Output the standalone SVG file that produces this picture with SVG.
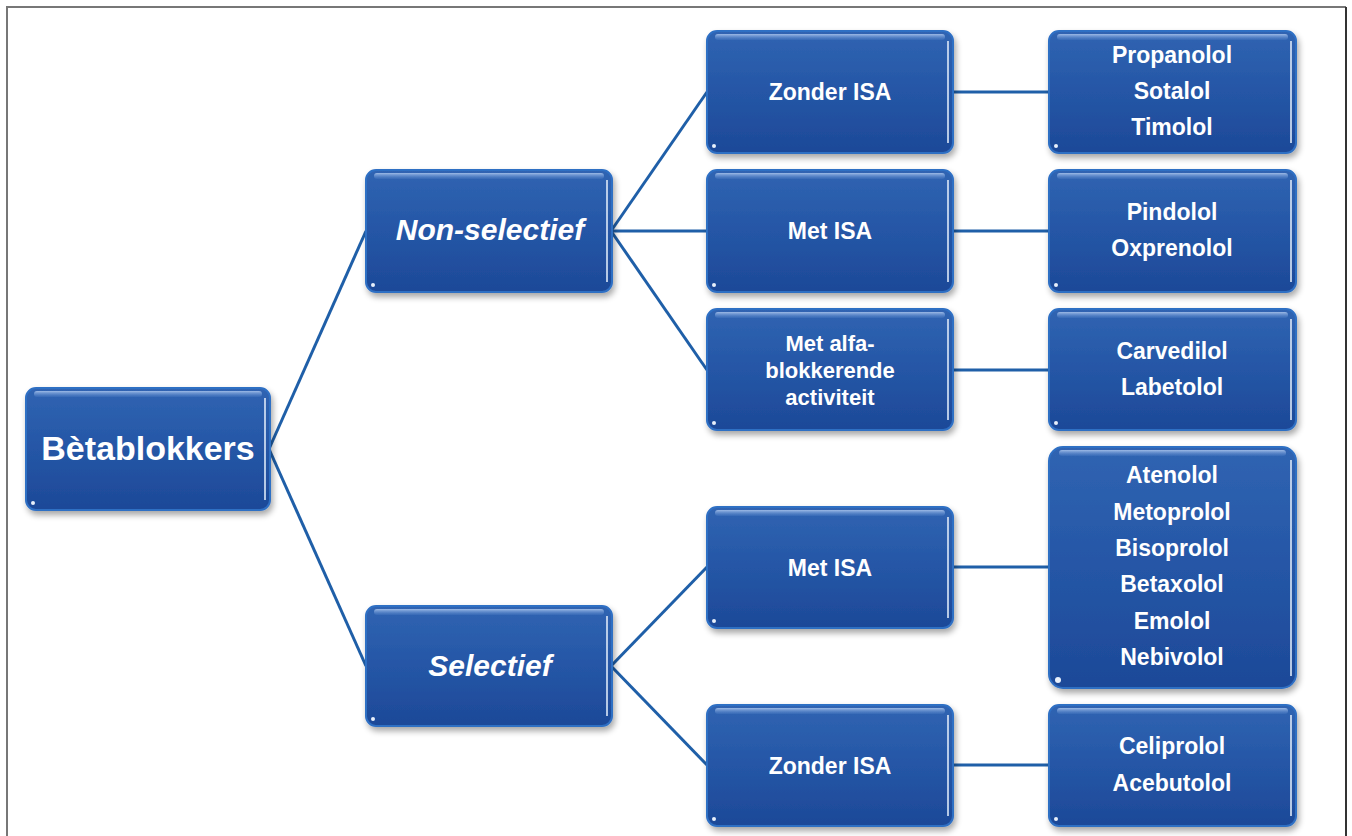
<svg xmlns="http://www.w3.org/2000/svg" width="1352" height="836" viewBox="0 0 1352 836">
<defs>
<linearGradient id="bg" x1="0" y1="0" x2="0" y2="1">
<stop offset="0" stop-color="#3064b2"/>
<stop offset="0.5" stop-color="#2556a6"/>
<stop offset="1" stop-color="#1d4998"/>
</linearGradient>
<linearGradient id="hl" x1="0" y1="0" x2="0" y2="1">
<stop offset="0" stop-color="#a9c4ec" stop-opacity="0.9"/>
<stop offset="1" stop-color="#5f8bd0" stop-opacity="0.2"/>
</linearGradient>
<filter id="sh" x="-10%" y="-10%" width="125%" height="130%">
<feGaussianBlur in="SourceAlpha" stdDeviation="3"/>
<feOffset dx="2" dy="4" result="b"/>
<feComponentTransfer><feFuncA type="linear" slope="0.35"/></feComponentTransfer>
<feMerge><feMergeNode/><feMergeNode in="SourceGraphic"/></feMerge>
</filter>
</defs>
<style>
.box{fill:url(#bg);stroke:#2f6fc4;stroke-width:2;filter:url(#sh)}
.hl{fill:url(#hl)}
.edge{stroke:#dce8f8;stroke-width:2;opacity:0.8}
.dot{fill:#e8f0fb}
.t{font-family:"Liberation Sans",Arial,sans-serif;fill:#ffffff;text-anchor:middle;font-weight:bold}
.t23{font-size:23px}
.t22{font-size:22px}
.bi{font-size:30px;font-style:italic}
.big{font-size:34px}
.con{stroke:#1f5fa8;stroke-width:3;fill:none}
.frame{fill:none;stroke-width:2}
</style>
<rect x="0" y="0" width="1352" height="836" fill="#ffffff"/>
<path class="frame" d="M7,836 V7 H1346" stroke="#777777"/>
<path class="frame" d="M1346,7 V836" stroke="#333333"/>

<g id="connectors">
<line class="con" x1="269" y1="449" x2="366" y2="231"/>
<line class="con" x1="269" y1="449" x2="366" y2="666"/>
<line class="con" x1="611" y1="231" x2="707" y2="92"/>
<line class="con" x1="611" y1="231" x2="707" y2="231"/>
<line class="con" x1="611" y1="231" x2="707" y2="370"/>
<line class="con" x1="611" y1="666" x2="707" y2="567"/>
<line class="con" x1="611" y1="666" x2="707" y2="765"/>
<line class="con" x1="952" y1="92" x2="1049" y2="92"/>
<line class="con" x1="952" y1="231" x2="1049" y2="231"/>
<line class="con" x1="952" y1="370" x2="1049" y2="370"/>
<line class="con" x1="952" y1="567" x2="1049" y2="567"/>
<line class="con" x1="952" y1="765" x2="1049" y2="765"/>
</g>

<g id="betablokkers">
<rect class="box" x="26" y="388" width="244" height="122" rx="10"/>
<rect class="hl" x="34" y="391" width="228" height="6" rx="3"/>
<line class="edge" x1="265" y1="398" x2="265" y2="500"/>
<circle class="dot" cx="33" cy="503" r="2"/>
<text class="t big" x="148" y="460">Bètablokkers</text>
</g>

<g id="non-selectief">
<rect class="box" x="366" y="170" width="246" height="122" rx="10"/>
<rect class="hl" x="374" y="173" width="230" height="6" rx="3"/>
<line class="edge" x1="607" y1="180" x2="607" y2="282"/>
<circle class="dot" cx="373" cy="285" r="2"/>
<text class="t bi" x="490" y="240">Non-selectief</text>
</g>

<g id="selectief">
<rect class="box" x="366" y="606" width="246" height="120" rx="10"/>
<rect class="hl" x="374" y="609" width="230" height="6" rx="3"/>
<line class="edge" x1="607" y1="616" x2="607" y2="716"/>
<circle class="dot" cx="373" cy="719" r="2"/>
<text class="t bi" x="490" y="676">Selectief</text>
</g>

<g id="ns-zonder-isa">
<rect class="box" x="707" y="31" width="246" height="122" rx="10"/>
<rect class="hl" x="715" y="34" width="230" height="6" rx="3"/>
<line class="edge" x1="948" y1="41" x2="948" y2="143"/>
<circle class="dot" cx="714" cy="146" r="2"/>
<text class="t t23" x="830" y="100">Zonder ISA</text>
</g>

<g id="ns-met-isa">
<rect class="box" x="707" y="170" width="246" height="122" rx="10"/>
<rect class="hl" x="715" y="173" width="230" height="6" rx="3"/>
<line class="edge" x1="948" y1="180" x2="948" y2="282"/>
<circle class="dot" cx="714" cy="285" r="2"/>
<text class="t t23" x="830" y="239">Met ISA</text>
</g>

<g id="ns-met-alfa">
<rect class="box" x="707" y="309" width="246" height="121" rx="10"/>
<rect class="hl" x="715" y="312" width="230" height="6" rx="3"/>
<line class="edge" x1="948" y1="319" x2="948" y2="420"/>
<circle class="dot" cx="714" cy="423" r="2"/>
<text class="t t22" x="830" y="351">Met alfa-</text>
<text class="t t22" x="830" y="378">blokkerende</text>
<text class="t t22" x="830" y="405">activiteit</text>
</g>

<g id="sel-met-isa">
<rect class="box" x="707" y="507" width="246" height="121" rx="10"/>
<rect class="hl" x="715" y="510" width="230" height="6" rx="3"/>
<line class="edge" x1="948" y1="517" x2="948" y2="618"/>
<circle class="dot" cx="714" cy="621" r="2"/>
<text class="t t23" x="830" y="576">Met ISA</text>
</g>

<g id="sel-zonder-isa">
<rect class="box" x="707" y="705" width="246" height="121" rx="10"/>
<rect class="hl" x="715" y="708" width="230" height="6" rx="3"/>
<line class="edge" x1="948" y1="715" x2="948" y2="816"/>
<circle class="dot" cx="714" cy="819" r="2"/>
<text class="t t23" x="830" y="774">Zonder ISA</text>
</g>

<g id="r-propanolol">
<rect class="box" x="1049" y="31" width="247" height="122" rx="10"/>
<rect class="hl" x="1057" y="34" width="231" height="6" rx="3"/>
<line class="edge" x1="1291" y1="41" x2="1291" y2="143"/>
<circle class="dot" cx="1056" cy="146" r="2"/>
<text class="t t23" x="1172" y="63">Propanolol</text>
<text class="t t23" x="1172" y="99">Sotalol</text>
<text class="t t23" x="1172" y="135">Timolol</text>
</g>

<g id="r-pindolol">
<rect class="box" x="1049" y="170" width="247" height="122" rx="10"/>
<rect class="hl" x="1057" y="173" width="231" height="6" rx="3"/>
<line class="edge" x1="1291" y1="180" x2="1291" y2="282"/>
<circle class="dot" cx="1056" cy="285" r="2"/>
<text class="t t23" x="1172" y="220">Pindolol</text>
<text class="t t23" x="1172" y="256">Oxprenolol</text>
</g>

<g id="r-carvedilol">
<rect class="box" x="1049" y="309" width="247" height="121" rx="10"/>
<rect class="hl" x="1057" y="312" width="231" height="6" rx="3"/>
<line class="edge" x1="1291" y1="319" x2="1291" y2="420"/>
<circle class="dot" cx="1056" cy="423" r="2"/>
<text class="t t23" x="1172" y="359">Carvedilol</text>
<text class="t t23" x="1172" y="395">Labetolol</text>
</g>

<g id="r-atenolol">
<rect class="box" x="1049" y="447" width="247" height="241" rx="14"/>
<rect class="hl" x="1059" y="450" width="227" height="6" rx="3"/>
<line class="edge" x1="1291" y1="460" x2="1291" y2="676"/>
<circle class="dot" cx="1058" cy="680" r="3"/>
<text class="t t23" x="1172" y="483">Atenolol</text>
<text class="t t23" x="1172" y="520">Metoprolol</text>
<text class="t t23" x="1172" y="556">Bisoprolol</text>
<text class="t t23" x="1172" y="592">Betaxolol</text>
<text class="t t23" x="1172" y="629">Emolol</text>
<text class="t t23" x="1172" y="665">Nebivolol</text>
</g>

<g id="r-celiprolol">
<rect class="box" x="1049" y="705" width="247" height="121" rx="10"/>
<rect class="hl" x="1057" y="708" width="231" height="6" rx="3"/>
<line class="edge" x1="1291" y1="715" x2="1291" y2="816"/>
<circle class="dot" cx="1056" cy="819" r="2"/>
<text class="t t23" x="1172" y="754">Celiprolol</text>
<text class="t t23" x="1172" y="791">Acebutolol</text>
</g>
</svg>
